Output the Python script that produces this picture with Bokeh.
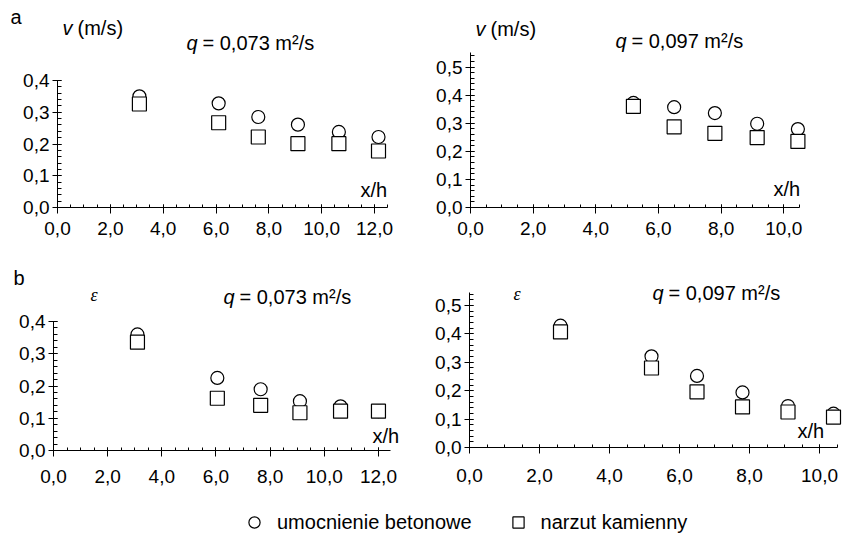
from bokeh.plotting import figure
from bokeh.models import (FixedTicker, CustomJSTickFormatter, Label, Range1d,
                          Legend, LegendItem)
from bokeh.layouts import column, row
from bokeh.embed import file_html
from bokeh.resources import INLINE

# ---------------- data ----------------
# a) velocity v (m/s), q = 0.073 m2/s
x_v_073 = [3.1, 6.1, 7.6, 9.1, 10.65, 12.15]
v_beton_073 = [0.350, 0.328, 0.285, 0.261, 0.238, 0.222]
v_narzut_073 = [0.326, 0.267, 0.222, 0.201, 0.201, 0.178]

# a) velocity v (m/s), q = 0.097 m2/s
x_v_097 = [5.2, 6.5, 7.8, 9.15, 10.45]
v_beton_097 = [0.372, 0.357, 0.336, 0.298, 0.279]
v_narzut_097 = [0.360, 0.287, 0.264, 0.249, 0.235]

# b) epsilon, q = 0.073 m2/s
x_e_073 = [3.1, 6.05, 7.65, 9.1, 10.6, 12.0]
e_beton_073 = [0.360, 0.225, 0.190, 0.153, 0.137, 0.122]
e_narzut_073 = [0.336, 0.162, 0.140, 0.117, 0.122, 0.122]

# b) epsilon, q = 0.097 m2/s
x_e_097 = [2.6, 5.2, 6.5, 7.8, 9.1, 10.4]
e_beton_097 = [0.429, 0.321, 0.252, 0.194, 0.146, 0.119]
e_narzut_097 = [0.407, 0.280, 0.196, 0.143, 0.125, 0.107]

x_ticks_12 = [0, 2, 4, 6, 8, 10, 12]
x_ticks_10 = [0, 2, 4, 6, 8, 10]
y_ticks_04 = [0.0, 0.1, 0.2, 0.3, 0.4]
y_ticks_05 = [0.0, 0.1, 0.2, 0.3, 0.4, 0.5]

series_names = ["umocnienie betonowe", "narzut kamienny"]
panel_letters = ["a", "b"]
q_labels = ["= 0,073 m\u00b2/s", "= 0,097 m\u00b2/s"]

FONT = "Liberation Sans"
SERIF = "Liberation Serif"
FS = "20px"
TICK_FS = "19px"


def make_panel(width, height, x0px, xs, y0px, ys, xbounds, ybounds, xticks, yticks,
               x_standoff):
    """Frame covers the whole canvas; axes are pinned at x=0 / y=0.
    x0px, y0px: pixel of the data origin inside the canvas; xs, ys: pixels per unit."""
    p = figure(width=width, height=height, title=None,
               x_range=Range1d(-x0px / xs, (width - x0px) / xs),
               y_range=Range1d(-(height - y0px) / ys, y0px / ys),
               output_backend="svg", toolbar_location=None,
               min_border_left=0, min_border_right=0,
               min_border_top=0, min_border_bottom=0)
    p.outline_line_color = None
    p.grid.visible = False
    p.background_fill_color = "white"
    p.border_fill_color = "white"
    fmt = CustomJSTickFormatter(code="return tick.toFixed(1).replace('.', ',');")

    xminor = [i * 0.5 for i in range(int(xbounds[1] / 0.5) + 1)]
    yminor = [i * 0.02 for i in range(int(ybounds[1] / 0.02 + 1e-6) + 1)]
    p.xaxis.ticker = FixedTicker(ticks=xticks, minor_ticks=xminor)
    p.yaxis.ticker = FixedTicker(ticks=yticks, minor_ticks=yminor)
    p.xaxis.formatter = fmt
    p.yaxis.formatter = fmt
    p.xaxis.fixed_location = 0
    p.yaxis.fixed_location = 0
    p.xaxis.bounds = xbounds
    p.yaxis.bounds = ybounds
    for ax in (p.xaxis, p.yaxis):
        ax.axis_line_color = "black"
        ax.axis_line_width = 1
        ax.major_tick_line_color = "black"
        ax.minor_tick_line_color = "black"
        ax.major_label_text_font = FONT
        ax.major_label_text_font_size = TICK_FS
        ax.major_label_text_color = "black"
        ax.minor_tick_out = 0
    p.xaxis.major_tick_in = 3
    p.xaxis.major_tick_out = 6
    p.xaxis.minor_tick_in = 3
    p.xaxis.major_label_standoff = x_standoff
    p.yaxis.major_tick_in = 4
    p.yaxis.major_tick_out = 5
    p.yaxis.minor_tick_in = 4
    p.yaxis.major_label_standoff = 3
    return p


def add_points(p, x, yc, ys):
    p.scatter(x, yc, marker="circle", size=13, fill_color="white",
              line_color="black", line_width=1.2)
    p.scatter(x, ys, marker="square", size=14, fill_color="white",
              line_color="black", line_width=1.2)


def lab(p, text, x, y, size=FS, style="normal", font=FONT):
    p.add_layout(Label(x=x, y=y, x_units="canvas", y_units="canvas", text=text,
                       text_font=font, text_font_size=size, text_font_style=style,
                       text_color="black", text_baseline="middle", text_align="left"))


# ---- panel a, left (canvas 0..420 x 0..248) ----
pa1 = make_panel(420, 248, 57, 26.42, 207, 317.5, (0, 12.5), (0, 0.4),
                 x_ticks_12, y_ticks_04, 8)
add_points(pa1, x_v_073, v_beton_073, v_narzut_073)
lab(pa1, panel_letters[0], 10, 16)
lab(pa1, "v", 62, 27, style="italic")
lab(pa1, "(m/s)", 77, 27)
lab(pa1, "q", 186, 42, style="italic")
lab(pa1, q_labels[0], 202, 42)
lab(pa1, "x/h", 360, 189)

# ---- panel a, right (canvas 420..845 x 0..248) ----
pa2 = make_panel(425, 248, 50, 31.33, 207, 281.0, (0, 10.5), (0, 0.55),
                 x_ticks_10, y_ticks_05, 8)
add_points(pa2, x_v_097, v_beton_097, v_narzut_097)
lab(pa2, "v", 55, 28.5, style="italic")
lab(pa2, "(m/s)", 70, 28.5)
lab(pa2, "q", 195, 40, style="italic")
lab(pa2, q_labels[1], 211, 40)
lab(pa2, "x/h", 353, 188)

# ---- panel b, left (canvas 0..420 x 248..490) ----
pb1 = make_panel(420, 242, 53, 27.08, 202, 322.5, (0, 12.45), (0, 0.4),
                 x_ticks_12, y_ticks_04, 13)
add_points(pb1, x_e_073, e_beton_073, e_narzut_073)
lab(pb1, panel_letters[1], 13, 29.5)
lab(pb1, "\u03b5", 90, 46, size="18px", style="italic", font=SERIF)
lab(pb1, "q", 223, 48, style="italic")
lab(pb1, q_labels[0], 239, 48)
lab(pb1, "x/h", 372, 187)

# ---- panel b, right (canvas 420..845 x 248..490) ----
pb2 = make_panel(425, 242, 49, 35.0, 199, 284.0, (0, 10.5), (0, 0.545),
                 x_ticks_10, y_ticks_05, 15)
add_points(pb2, x_e_097, e_beton_097, e_narzut_097)
lab(pb2, "\u03b5", 93, 45, size="18px", style="italic", font=SERIF)
lab(pb2, "q", 232, 44, style="italic")
lab(pb2, q_labels[1], 248, 44)
lab(pb2, "x/h", 377, 182)

# ---- legend strip (canvas 0..845 x 490..534) ----
pl = figure(width=845, height=44, title=None, x_range=Range1d(0, 1), y_range=Range1d(0, 1),
            output_backend="svg", toolbar_location=None,
            min_border_left=0, min_border_right=0, min_border_top=0, min_border_bottom=0)
pl.axis.visible = False
pl.grid.visible = False
pl.outline_line_color = None
rc = pl.scatter(x_e_097, e_beton_097, marker="circle", size=13, fill_color="white",
                line_color="black", line_width=1.2, visible=False)
rs = pl.scatter(x_e_097, e_narzut_097, marker="square", size=14, fill_color="white",
                line_color="black", line_width=1.2, visible=False)
legend = Legend(items=[LegendItem(label=series_names[0], renderers=[rc]),
                       LegendItem(label=series_names[1], renderers=[rs])],
                orientation="horizontal", location=(240, -2),
                glyph_width=28, glyph_height=28, label_standoff=9, spacing=32,
                padding=0, margin=0, border_line_alpha=0, background_fill_alpha=0,
                inactive_fill_alpha=0,
                label_text_font=FONT, label_text_font_size=FS, label_text_color="black")
pl.add_layout(legend)

layout = column(row(pa1, pa2), row(pb1, pb2), pl)
open("out.html", "w").write(file_html(layout, INLINE))
